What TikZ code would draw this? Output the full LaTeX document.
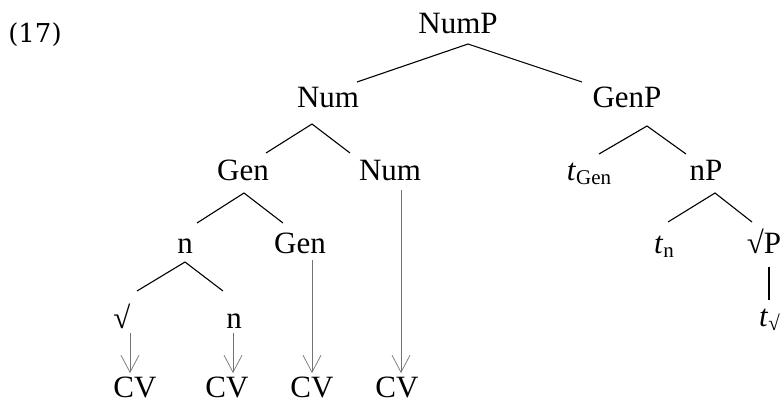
\documentclass[tikz,border=0pt]{standalone}
\usepackage{fontspec}
\setmainfont{Liberation Serif}
\newfontfamily\exfont{DejaVu Serif}
\usetikzlibrary{arrows.meta}
\tikzset{
  lbl/.style={inner sep=0pt, anchor=base, font=\fontsize{31}{36}\selectfont},
  branch/.style={line width=1.1pt, black},
  spell/.style={line width=0.7pt, black!55, -{Straight Barb[length=17pt,width=18pt,line width=0.7pt]}},
}
\newcommand{\sbx}[1]{\raisebox{-4pt}{\fontsize{21}{24}\selectfont #1}}
\begin{document}
\begin{tikzpicture}[x=1pt,y=-1pt]
\useasboundingbox (0,0) rectangle (781,405);

% example number
\node[inner sep=0pt, anchor=base, font=\exfont\fontsize{26}{30}\selectfont] (ex) at (35,42) {(17)};

% tree labels
\node[lbl] (NumP) at (458,33) {NumP};
\node[lbl] (Num)  at (328,107) {Num};
\node[lbl] (GenP) at (627,107) {GenP};
\node[lbl] (Gen)  at (243,180) {Gen};
\node[lbl] (Numb) at (390,180) {Num};
\node[lbl] (tGen) at (589,180) {\textit{t}\sbx{Gen}};
\node[lbl] (nP)   at (706,180) {nP};
\node[lbl] (n)    at (185,253) {n};
\node[lbl] (Genb) at (300,253) {Gen};
\node[lbl] (tn)   at (664,253) {\textit{t}\sbx{n}};
\node[lbl] (rP)   at (764,253) {√P};
\node[lbl] (rt)   at (122,328) {√};
\node[lbl] (nb)   at (234,328) {n};
\node[lbl, anchor=base east] (tr) at (780,326) {\textit{t}\sbx{√}};
\node[lbl] (cv1)  at (135,397) {CV};
\node[lbl] (cv2)  at (227,397) {CV};
\node[lbl] (cv3)  at (312,397) {CV};
\node[lbl] (cv4)  at (397,397) {CV};

% branch points
\coordinate (NumP-a) at (468,44);  \coordinate (NumP-l) at (357,82);  \coordinate (NumP-r) at (582,82);
\coordinate (Num-a)  at (312,124); \coordinate (Num-l)  at (266,153); \coordinate (Num-r)  at (350,153);
\coordinate (GenP-a) at (647,126); \coordinate (GenP-l) at (599,154); \coordinate (GenP-r) at (686,154);
\coordinate (Gen-a)  at (244,193); \coordinate (Gen-l)  at (197,223); \coordinate (Gen-r)  at (283,223);
\coordinate (nP-a)   at (715,193); \coordinate (nP-l)   at (668,222); \coordinate (nP-r)   at (752,222);
\coordinate (n-a)    at (185,262); \coordinate (n-l)    at (137,291); \coordinate (n-r)    at (223,291);
\coordinate (rP-t)   at (769,267); \coordinate (rP-b)   at (769,300);

\draw[branch] (NumP-l) -- (NumP-a) -- (NumP-r);
\draw[branch] (Num-l) -- (Num-a) -- (Num-r);
\draw[branch] (GenP-l) -- (GenP-a) -- (GenP-r);
\draw[branch] (Gen-l) -- (Gen-a) -- (Gen-r);
\draw[branch] (nP-l) -- (nP-a) -- (nP-r);
\draw[branch] (n-l) -- (n-a) -- (n-r);
\draw[branch] (rP-t) -- (rP-b);

% spell-out arrows
\coordinate (s1) at (130,333); \coordinate (e1) at (130,373);
\coordinate (s2) at (233,333); \coordinate (e2) at (233,373);
\coordinate (s3) at (312,260); \coordinate (e3) at (312,373);
\coordinate (s4) at (401,190); \coordinate (e4) at (401,373);
\draw[spell] (s1) -- (e1);
\draw[spell] (s2) -- (e2);
\draw[spell] (s3) -- (e3);
\draw[spell] (s4) -- (e4);
\end{tikzpicture}
\end{document}
